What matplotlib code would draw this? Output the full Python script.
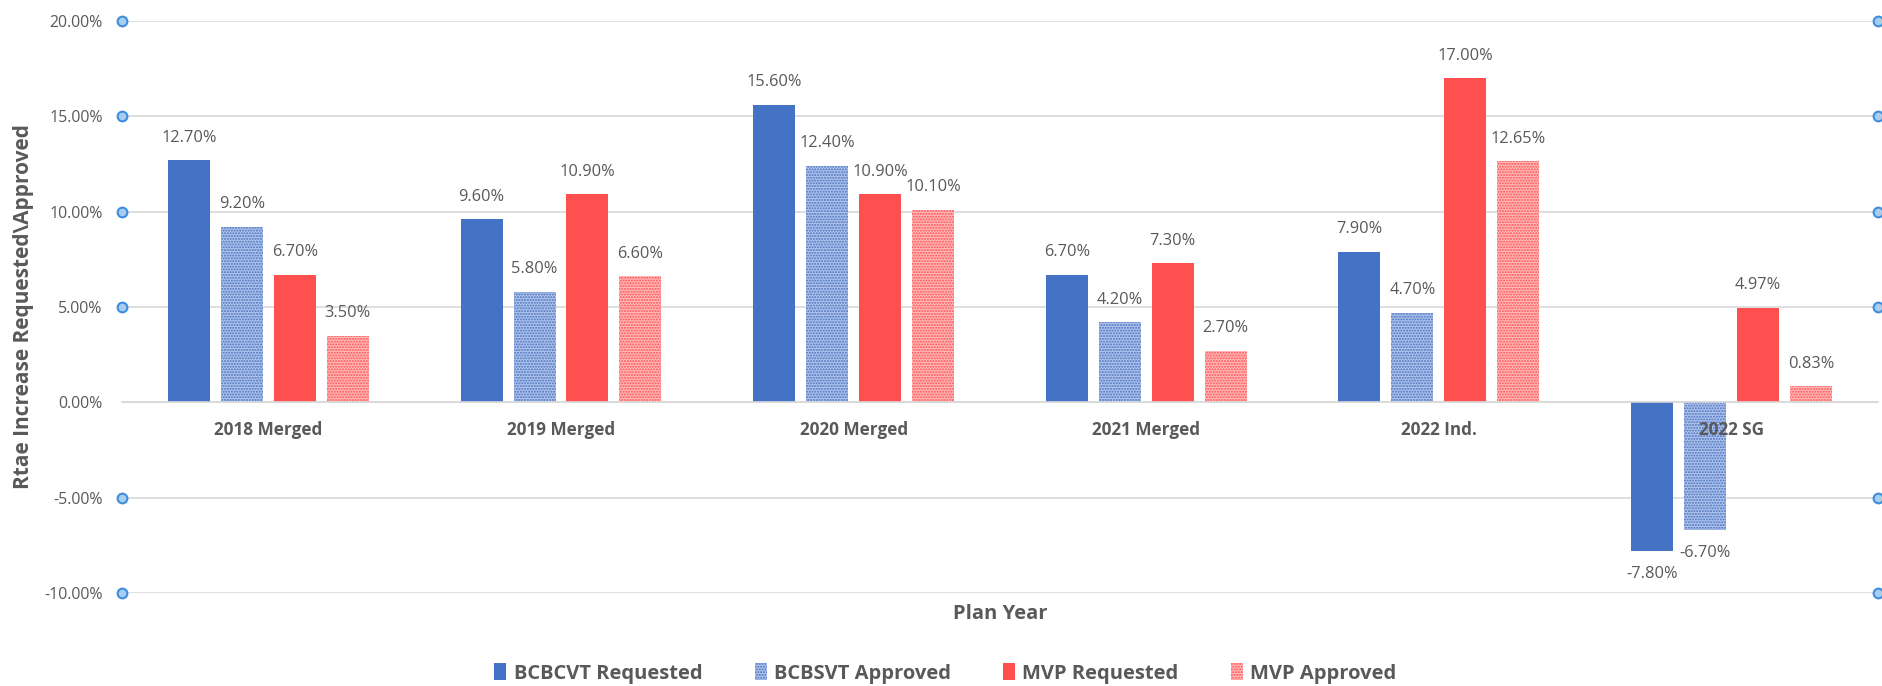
import matplotlib
matplotlib.use("Agg")
import matplotlib.pyplot as plt
import numpy as np

categories = ["2018 Merged", "2019 Merged", "2020 Merged", "2021 Merged", "2022 Ind.", "2022 SG"]
series_names = ["BCBCVT Requested", "BCBSVT Approved", "MVP Requested", "MVP Approved"]
bcbcvt_requested = [12.70, 9.60, 15.60, 6.70, 7.90, -7.80]
bcbsvt_approved = [9.20, 5.80, 12.40, 4.20, 4.70, -6.70]
mvp_requested = [6.70, 10.90, 10.90, 7.30, 17.00, 4.97]
mvp_approved = [3.50, 6.60, 10.10, 2.70, 12.65, 0.83]
y_ticks = [-10, -5, 0, 5, 10, 15, 20]

plt.rcParams['font.family'] = ['Open Sans', 'DejaVu Sans']
plt.rcParams['hatch.linewidth'] = 1.0
text_gray = '#595959'
grid_gray = '#D9D9D9'

series = [bcbcvt_requested, bcbsvt_approved, mvp_requested, mvp_approved]
# (face, hatch colour, hatch) for each series
styles = [
    ('#4472C4', '#4472C4', None),
    ('#B3C4EA', '#4472C4', '......'),
    ('#FF5050', '#FF5050', None),
    ('#FFBABA', '#FF5050', '......'),
]

fig = plt.figure(figsize=(18.83, 6.86), dpi=100)
ax = fig.add_axes([0.0648, 0.1356, 0.9325, 0.8338])

x = np.arange(len(categories))
pitch = 0.181
width = 0.1435

for j, (vals, name, (face, hcol, hatch)) in enumerate(zip(series, series_names, styles)):
    pos = x + (j - 1.5) * pitch
    bars = ax.bar(pos, vals, width, color=face, edgecolor=hcol, linewidth=0,
                  hatch=hatch, label=name, zorder=3)
    for b, v in zip(bars, vals):
        off = 10.5 if v >= 0 else -10.5
        ax.annotate(f"{v:.2f}%", (b.get_x() + b.get_width() / 2, v),
                    xytext=(0, off), textcoords='offset points',
                    ha='center', va='bottom' if v >= 0 else 'top',
                    fontsize=11.8, color=text_gray)

# category labels sit just under the zero line, on top of the bars
for xi, cat in zip(x, categories):
    ax.annotate(cat, (xi, 0), xytext=(0, -20), textcoords='offset points',
                ha='center', va='center', fontsize=12.3, fontweight='bold',
                color=text_gray, zorder=6)

ax.set_xlim(-0.5, len(categories) - 0.5)
ax.set_ylim(-10, 20)
ax.set_xticks([])
ax.set_yticks(y_ticks)
ax.set_yticklabels([f"{t:.2f}%" for t in y_ticks])
ax.tick_params(axis='y', length=0, pad=14, labelsize=11.4, labelcolor=text_gray)

for s in ['top', 'right', 'left']:
    ax.spines[s].set_visible(False)
ax.spines['bottom'].set_position(('data', 0))
ax.spines['bottom'].set_color(grid_gray)
ax.spines['bottom'].set_linewidth(1.2)
ax.spines['bottom'].set_zorder(4)

ax.yaxis.grid(True, color=grid_gray, linewidth=1.2, zorder=0)
ax.set_axisbelow(True)

# selection handles at the ends of the gridlines
handle_ticks = [t for t in y_ticks if t != 0]
for xe in ax.get_xlim():
    ax.plot([xe] * len(handle_ticks), handle_ticks, 'o', ms=7, mfc='#A8CDF0',
            mec='#3D8FDC', mew=1.5, clip_on=False, zorder=5)

ax.set_ylabel("Rtae Increase Requested\\Approved", fontsize=15, fontweight='bold',
              color=text_gray)
ax.yaxis.set_label_coords(-0.05, 0.5)
ax.text(0.5, -0.037, "Plan Year", transform=ax.transAxes, ha='center', va='center',
        fontsize=14.5, fontweight='bold', color=text_gray)

handles, labels = ax.get_legend_handles_labels()
leg = fig.legend(handles, labels, loc='center', bbox_to_anchor=(0.502, 0.018), ncol=4,
                 frameon=False, fontsize=14.5, handlelength=0.6, handleheight=0.9,
                 handletextpad=0.35, columnspacing=2.6)
for t in leg.get_texts():
    t.set_color(text_gray)
    t.set_fontweight('bold')

fig.savefig("out.png", dpi=100)
